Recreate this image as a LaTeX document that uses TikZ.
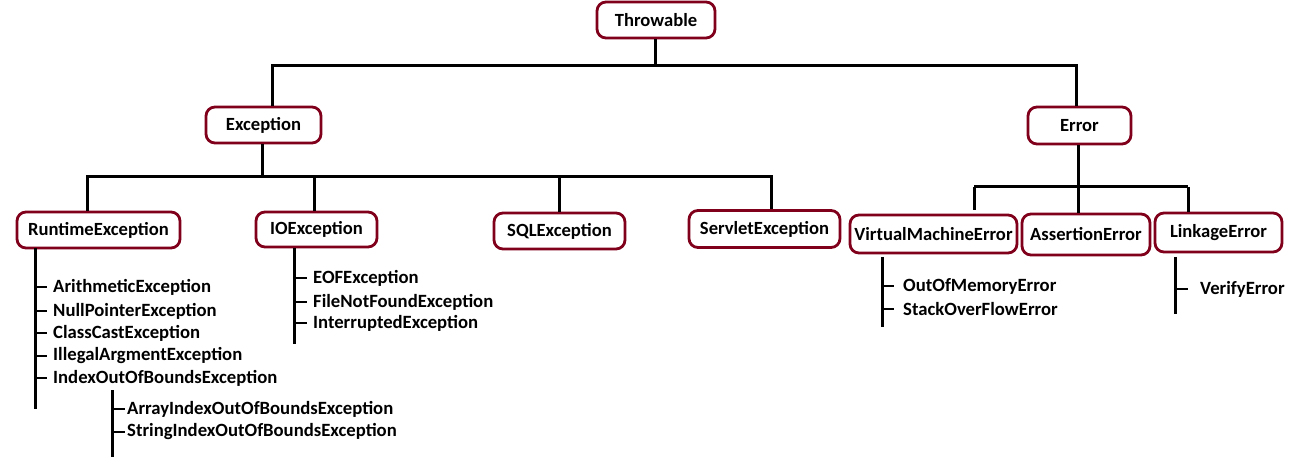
\documentclass[tikz,border=0pt]{standalone}
\usepackage{fontspec}
\setmainfont{Carlito}
\definecolor{boxred}{RGB}{128,0,28}
\begin{document}
\begin{tikzpicture}[x=1pt,y=-1pt,
  box/.style={draw=boxred,line width=2.8pt,rounded corners=9pt,fill=white,
    inner sep=0pt,font=\fontsize{18.6}{20}\selectfont\bfseries},
  conn/.style={draw=black,line width=3pt},
  tick/.style={draw=black,line width=2.6pt},
  item/.style={anchor=west,inner sep=0pt,font=\fontsize{18.7}{20}\selectfont\bfseries}]
\useasboundingbox (0,0) rectangle (1302,465);
\fill[white] (0,0) rectangle (1302,465);

% boxes
\node[box,minimum width=118pt,minimum height=36pt] (thr) at (656,20) {Throwable};
\node[box,minimum width=115pt,minimum height=36pt] (exc) at (263.5,125) {Exception};
\node[box,minimum width=103pt,minimum height=37pt] (err) at (1079.5,125.5) {Error};
\node[box,minimum width=163pt,minimum height=36pt] (rte) at (98.5,230) {RuntimeException};
\node[box,minimum width=121pt,minimum height=35pt] (ioe) at (316.5,229.5) {IOException};
\node[box,minimum width=131pt,minimum height=36pt] (sql) at (559.5,231) {SQLException};
\node[box,minimum width=151pt,minimum height=37pt] (svl) at (764.5,229) {ServletException};
\node[box,minimum width=167pt,minimum height=38pt] (vme) at (933.5,234) {VirtualMachineError};
\node[box,minimum width=128pt,minimum height=41pt] (ase) at (1086,234.5) {AssertionError};
\node[box,minimum width=127pt,minimum height=39pt] (lke) at (1218.5,232.5) {LinkageError};

% Throwable bus
\coordinate (tb) at (655,66);
\coordinate (tbl) at (272,66);
\coordinate (tbr) at (1076,66);
\draw[conn] (thr.south -| tb) -- (tb);
\draw[conn] (tbl |- exc.north) -- (tbl) -- (tbr) -- (tbr |- err.north);

% Exception bus
\coordinate (eb) at (262,177);
\coordinate (ebl) at (87,177);
\coordinate (ebr) at (771,177);
\draw[conn] (exc.south -| eb) -- (eb);
\draw[conn] (ebl |- rte.north) -- (ebl) -- (ebr) -- (ebr |- svl.north);
\draw[conn] (314,177) -- (314,0 |- ioe.north);
\draw[conn] (559,177) -- (559,0 |- sql.north);

% Error bus
\coordinate (rb) at (1078,187);
\coordinate (rbl) at (974,187);
\coordinate (rbr) at (1188,187);
\draw[conn] (err.south -| rb) -- (rb);
\draw[conn] (rbl) -- (rbr);
\draw[conn] (rbl) -- ++(0,23);
\draw[conn] (rb) -- (rb |- ase.north);
\draw[conn] (rbr) -- (rbr |- lke.north);

% RuntimeException children
\coordinate (rv) at (35,248);
\draw[conn] (rv) -- (35,409);
\foreach \y/\n/\t in {287/ar/ArithmeticException,311/np/NullPointerException,333/cc/ClassCastException,356/ia/IllegalArgmentException,378/io/IndexOutOfBoundsException}{
  \node[item] (\n) at (53,\y) {\t};
  \draw[tick] (35,\y) -- (47,\y);
}
\draw[conn] (112,390) -- (112,457);
\foreach \y/\n/\t in {409/ai/ArrayIndexOutOfBoundsException,432/si/StringIndexOutOfBoundsException}{
  \node[item] (\n) at (127,\y) {\t};
  \draw[tick] (112,\y) -- (125,\y);
}

% IOException children
\draw[conn] (294,0 |- ioe.south) -- (294,344);
\foreach \y/\n/\t in {278/eof/EOFException,302/fnf/FileNotFoundException,323/int/InterruptedException}{
  \node[item] (\n) at (313,\y) {\t};
  \draw[tick] (294,\y) -- (307,\y);
}

% VirtualMachineError children
\draw[conn] (882,257) -- (882,327);
\foreach \y/\n/\t in {286/oom/OutOfMemoryError,309/soe/StackOverFlowError}{
  \node[item] (\n) at (903,\y) {\t};
  \draw[tick] (882,\y) -- (894,\y);
}

% LinkageError children
\draw[conn] (1175,257) -- (1175,314);
\node[item] (vfe) at (1200,289) {VerifyError};
\draw[tick] (1175,289) -- (1188,289);
\end{tikzpicture}
\end{document}
